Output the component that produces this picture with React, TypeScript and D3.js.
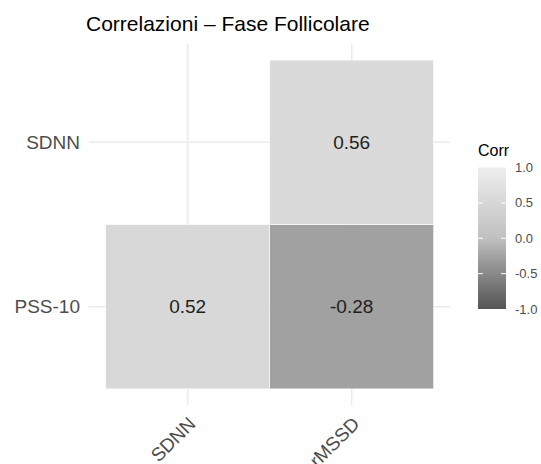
import React from "react";
import * as d3 from "d3";

const xVars = ["SDNN", "rMSSD"];
const yVars = ["PSS-10", "SDNN"];
const cells = [
  { x: "SDNN", y: "PSS-10", r: 0.52 },
  { x: "rMSSD", y: "PSS-10", r: -0.28 },
  { x: "rMSSD", y: "SDNN", r: 0.56 },
];
const legendTicks = [1.0, 0.5, 0.0, -0.5, -1.0];
const title = "Correlazioni – Fase Follicolare";

const W = 541, H = 464;
const panel = { left: 89, right: 450, top: 43.7, bottom: 405.3 };

export default function App() {
  const x = d3.scalePoint<string>().domain(xVars).range([187.7, 351.7]);
  const y = d3.scalePoint<string>().domain(yVars).range([306.7, 142.3]);
  const cw = 164, ch = 164.4;
  const fill = d3
    .scaleLinear<string>()
    .domain([-1, 0, 1])
    .range(["#555555", "#c0c0c0", "#eeeeee"])
    .interpolate(d3.interpolateLab);
  const ly = d3.scaleLinear().domain([-1, 1]).range([309, 167.5]);
  const lx0 = 478, lx1 = 506;
  const font = "'Liberation Sans', Arial, Helvetica, sans-serif";
  const grid = "#ebebeb";
  const stops = d3.range(0, 11).map((i) => -1 + i * 0.2);

  return (
    <svg width={W} height={H} style={{ position: "absolute", left: 0, top: 0, background: "#fff" }} fontFamily={font}>
      <defs>
        <linearGradient id="lg" x1="0" y1="1" x2="0" y2="0">
          {stops.map((s, i) => (
            <stop key={i} offset={(s + 1) / 2} stopColor={fill(s)} />
          ))}
        </linearGradient>
      </defs>
      <text x={86} y={31} fontSize={21} fill="#000">{title}</text>
      {xVars.map((v) => (
        <line key={"gx" + v} x1={x(v)} x2={x(v)} y1={panel.top} y2={panel.bottom} stroke={grid} strokeWidth={1.5} />
      ))}
      {yVars.map((v) => (
        <line key={"gy" + v} x1={panel.left} x2={panel.right} y1={y(v)} y2={y(v)} stroke={grid} strokeWidth={1.5} />
      ))}
      {cells.map((c, i) => (
        <g key={i}>
          <rect
            x={(x(c.x) as number) - cw / 2}
            y={(y(c.y) as number) - ch / 2}
            width={cw}
            height={ch}
            fill={fill(c.r)}
            stroke="#ffffff"
            strokeWidth={0.6}
          />
          <text
            x={x(c.x)}
            y={y(c.y)}
            dy="0.35em"
            textAnchor="middle"
            fontSize={19}
            fill="#1f1f1f"
          >
            {c.r.toFixed(2)}
          </text>
        </g>
      ))}
      {yVars.map((v) => (
        <text key={"ly" + v} x={80} y={y(v)} dy="0.35em" textAnchor="end" fontSize={19} fill="#4d4d4d">{v}</text>
      ))}
      {xVars.map((v) => (
        <text
          key={"lx" + v}
          transform={`translate(${(x(v) as number) + 9},425) rotate(-45)`}
          textAnchor="end"
          fontSize={19}
          fill="#4d4d4d"
        >
          {v}
        </text>
      ))}
      <text x={478} y={156} fontSize={16} fill="#000">Corr</text>
      <rect x={lx0} y={ly(1)} width={lx1 - lx0} height={ly(-1) - ly(1)} fill="url(#lg)" />
      {legendTicks.map((t) => (
        <g key={"lt" + t}>
          {Math.abs(t) < 1 && (
            <>
              <line x1={lx0} x2={lx0 + 5} y1={ly(t)} y2={ly(t)} stroke="#fff" strokeWidth={1} />
              <line x1={lx1 - 5} x2={lx1} y1={ly(t)} y2={ly(t)} stroke="#fff" strokeWidth={1} />
            </>
          )}
          <text x={515} y={ly(t)} dy="0.35em" fontSize={13} fill="#4d4d4d">{t.toFixed(1)}</text>
        </g>
      ))}
    </svg>
  );
}
